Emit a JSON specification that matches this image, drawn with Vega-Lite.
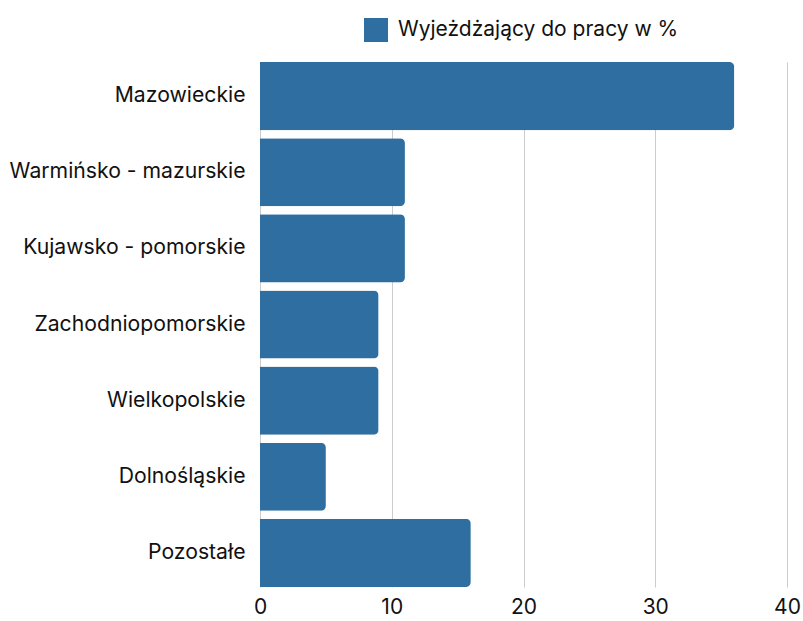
{
  "$schema": "https://vega.github.io/schema/vega-lite/v6.json",
  "autosize": "none",
  "padding": {"left": 260, "top": 62, "right": 16, "bottom": 34},
  "width": 527,
  "height": 525,
  "background": "white",
  "config": {
    "font": "Inter",
    "view": {"stroke": null}
  },
  "data": {
    "values": [
      {"region": "Mazowieckie", "value": 36, "series": "Wyjeżdżający do pracy w %"},
      {"region": "Warmińsko - mazurskie", "value": 11, "series": "Wyjeżdżający do pracy w %"},
      {"region": "Kujawsko - pomorskie", "value": 11, "series": "Wyjeżdżający do pracy w %"},
      {"region": "Zachodniopomorskie", "value": 9, "series": "Wyjeżdżający do pracy w %"},
      {"region": "Wielkopolskie", "value": 9, "series": "Wyjeżdżający do pracy w %"},
      {"region": "Dolnośląskie", "value": 5, "series": "Wyjeżdżający do pracy w %"},
      {"region": "Pozostałe", "value": 16, "series": "Wyjeżdżający do pracy w %"}
    ]
  },
  "mark": {"type": "bar", "cornerRadiusEnd": 5},
  "encoding": {
    "y": {
      "field": "region",
      "type": "nominal",
      "sort": null,
      "scale": {"paddingInner": 0.105, "paddingOuter": 0},
      "axis": {
        "title": null,
        "ticks": false,
        "domain": false,
        "labelFontSize": 21.2,
        "labelColor": "#111",
        "labelPadding": 15,
        "labelLimit": 300
      }
    },
    "x": {
      "field": "value",
      "type": "quantitative",
      "scale": {"domain": [0, 40]},
      "axis": {
        "title": null,
        "values": [0, 10, 20, 30, 40],
        "ticks": false,
        "domain": false,
        "grid": true,
        "gridColor": "#cccccc",
        "labelFontSize": 21,
        "labelColor": "#111",
        "labelPadding": 9,
        "labelFlush": false
      }
    },
    "color": {
      "field": "series",
      "type": "nominal",
      "scale": {"range": ["#2f6ea0"]},
      "legend": {
        "title": null,
        "orient": "none",
        "legendX": 104,
        "legendY": -44,
        "symbolType": "square",
        "symbolSize": 576,
        "symbolStrokeWidth": 0,
        "labelFontSize": 21,
        "labelColor": "#111",
        "labelOffset": 10,
        "labelLimit": 400
      }
    }
  }
}
